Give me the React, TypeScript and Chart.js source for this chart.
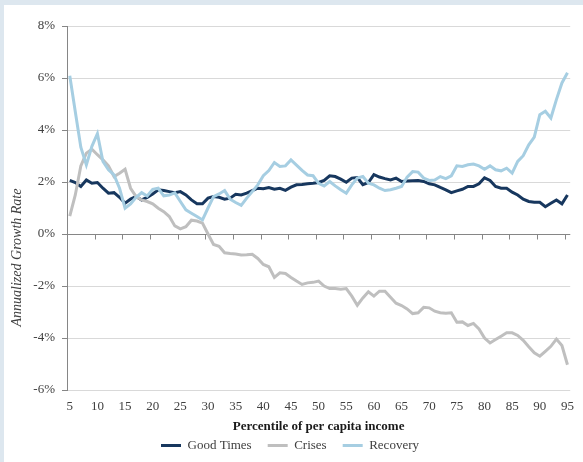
import React, { useEffect, useRef } from 'react';
import { Chart, registerables } from 'chart.js';

Chart.register(...registerables);

const percentiles = [
  5, 6, 7, 8, 9, 10, 11, 12, 13, 14, 15, 16, 17, 18, 19, 20, 21, 22, 23, 24,
  25, 26, 27, 28, 29, 30, 31, 32, 33, 34, 35, 36, 37, 38, 39, 40, 41, 42, 43, 44,
  45, 46, 47, 48, 49, 50, 51, 52, 53, 54, 55, 56, 57, 58, 59, 60, 61, 62, 63, 64,
  65, 66, 67, 68, 69, 70, 71, 72, 73, 74, 75, 76, 77, 78, 79, 80, 81, 82, 83, 84,
  85, 86, 87, 88, 89, 90, 91, 92, 93, 94, 95,
];

const goodTimes = [
  2.06, 1.98, 1.83, 2.08, 1.95, 1.98, 1.76, 1.57, 1.59, 1.41, // 5-14
  1.18, 1.34, 1.44, 1.31, 1.41, 1.54, 1.7, 1.67, 1.63, 1.59, // 15-24
  1.63, 1.5, 1.31, 1.16, 1.16, 1.38, 1.44, 1.41, 1.34, 1.38, // 25-34
  1.53, 1.5, 1.57, 1.67, 1.76, 1.74, 1.79, 1.72, 1.76, 1.68, // 35-44
  1.8, 1.89, 1.9, 1.93, 1.95, 1.98, 2.06, 2.24, 2.21, 2.11, // 45-54
  1.99, 2.15, 2.17, 1.9, 1.98, 2.28, 2.19, 2.13, 2.08, 2.15, // 55-64
  2.02, 2.04, 2.05, 2.06, 2.02, 1.93, 1.89, 1.79, 1.7, 1.59, // 65-74
  1.66, 1.72, 1.83, 1.83, 1.93, 2.16, 2.06, 1.83, 1.76, 1.76, // 75-84
  1.61, 1.5, 1.34, 1.25, 1.22, 1.22, 1.05, 1.18, 1.31, 1.16, // 85-94
  1.5, // 95
];

const crises = [
  0.69, 1.5, 2.62, 3.11, 3.26, 3.05, 2.85, 2.62, 2.21, 2.34, // 5-14
  2.49, 1.76, 1.44, 1.31, 1.25, 1.16, 0.99, 0.86, 0.67, 0.31, // 15-24
  0.2, 0.28, 0.53, 0.5, 0.42, 0.0, -0.4, -0.47, -0.72, -0.75, // 25-34
  -0.77, -0.81, -0.8, -0.78, -0.94, -1.17, -1.26, -1.67, -1.49, -1.52, // 35-44
  -1.67, -1.81, -1.94, -1.88, -1.86, -1.81, -2.0, -2.1, -2.1, -2.12, // 45-54
  -2.1, -2.39, -2.74, -2.46, -2.22, -2.39, -2.2, -2.2, -2.43, -2.66, // 55-64
  -2.75, -2.88, -3.06, -3.03, -2.82, -2.84, -2.97, -3.03, -3.05, -3.03, // 65-74
  -3.39, -3.38, -3.52, -3.44, -3.65, -4.0, -4.19, -4.06, -3.93, -3.8, // 75-84
  -3.8, -3.9, -4.09, -4.34, -4.57, -4.7, -4.51, -4.32, -4.04, -4.29, // 85-94
  -5.03, // 95
];

const recovery = [
  6.09, 4.7, 3.34, 2.66, 3.37, 3.86, 2.79, 2.47, 2.27, 1.76, // 5-14
  0.99, 1.16, 1.41, 1.59, 1.46, 1.72, 1.76, 1.47, 1.5, 1.58, // 15-24
  1.25, 0.93, 0.8, 0.67, 0.54, 1.0, 1.44, 1.54, 1.67, 1.34, // 25-34
  1.21, 1.1, 1.38, 1.63, 1.89, 2.24, 2.44, 2.75, 2.6, 2.62, // 35-44
  2.85, 2.65, 2.45, 2.27, 2.24, 1.95, 1.85, 2.02, 1.85, 1.7, // 45-54
  1.57, 1.89, 2.15, 2.21, 1.95, 1.89, 1.76, 1.67, 1.7, 1.76, // 55-64
  1.83, 2.19, 2.4, 2.38, 2.15, 2.06, 2.08, 2.21, 2.13, 2.24, // 65-74
  2.62, 2.6, 2.66, 2.69, 2.62, 2.49, 2.62, 2.47, 2.43, 2.53, // 75-84
  2.34, 2.79, 3.01, 3.43, 3.73, 4.59, 4.72, 4.46, 5.17, 5.81, // 85-94
  6.2, // 95
];

const seriesNames = ['Good Times', 'Crises', 'Recovery'];
const seriesColors = ['#17375E', '#BFBFBF', '#A6CEE2'];
const yTitle = 'Annualized Growth Rate';
const xTitle = 'Percentile of per capita income';
const yMin = -6;
const yMax = 8;
const yStep = 2;
const xTickEvery = 5;

const FONT = "'Liberation Serif', 'DejaVu Serif', serif";

const axisPlugin = {
  id: 'excelAxis',
  beforeDatasetsDraw(chart: any) {
    const { ctx, chartArea, scales } = chart;
    const x = scales.x;
    const y = scales.y;
    const y0 = Math.round(y.getPixelForValue(0)) + 0.5;
    ctx.save();
    ctx.strokeStyle = '#868686';
    ctx.lineWidth = 1;
    ctx.beginPath();
    ctx.moveTo(chartArea.left, y0);
    ctx.lineTo(chartArea.right, y0);
    const step = x.getPixelForValue(1) - x.getPixelForValue(0);
    for (let i = 0; i < percentiles.length; i += xTickEvery) {
      const px = Math.round(x.getPixelForValue(i) - step / 2) + 0.5;
      ctx.moveTo(px, y0);
      ctx.lineTo(px, y0 + 5);
    }
    ctx.stroke();
    ctx.restore();
  },
  afterDraw(chart: any) {
    const { ctx, chartArea } = chart;
    ctx.save();
    ctx.font = `italic 14px ${FONT}`;
    ctx.fillStyle = '#404040';
    ctx.textAlign = 'center';
    ctx.textBaseline = 'middle';
    const cy = chartArea.top + (chartArea.bottom - chartArea.top) * 0.636;
    ctx.translate(13, cy);
    ctx.rotate(-Math.PI / 2);
    ctx.fillText(yTitle, 0, 0);
    ctx.restore();
  },
};

export default function App() {
  const ref = useRef<HTMLCanvasElement | null>(null);

  useEffect(() => {
    document.body.style.margin = '0';
    const canvas = ref.current;
    if (!canvas) return;
    const chart = new Chart(canvas, {
      type: 'line',
      data: {
        labels: percentiles.map(String),
        datasets: [
          { label: seriesNames[0], data: goodTimes, borderColor: seriesColors[0], backgroundColor: seriesColors[0], order: 3 },
          { label: seriesNames[1], data: crises, borderColor: seriesColors[1], backgroundColor: seriesColors[1], order: 2 },
          { label: seriesNames[2], data: recovery, borderColor: seriesColors[2], backgroundColor: seriesColors[2], order: 1 },
        ].map((d) => ({ ...d, borderWidth: 3, pointRadius: 0, tension: 0, fill: false })),
      },
      options: {
        animation: false,
        responsive: false,
        maintainAspectRatio: false,
        layout: { padding: { top: 21, right: 7, left: 0, bottom: 0 } },
        plugins: {
          tooltip: { enabled: false },
          legend: {
            position: 'bottom',
            labels: {
              font: { family: FONT, size: 13 },
              color: '#404040',
              boxWidth: 20,
              boxHeight: 3,
              padding: 16,
              sort: (a: any, b: any) => a.datasetIndex - b.datasetIndex,
              generateLabels: (c: any) => {
                const items = (Chart as any).defaults.plugins.legend.labels.generateLabels(c);
                return items.map((it: any) => ({ ...it, fillStyle: it.strokeStyle, lineWidth: 0 }));
              },
            },
          },
        },
        scales: {
          x: {
            type: 'category',
            offset: true,
            grid: { display: false, drawTicks: false },
            border: { display: false },
            afterBuildTicks: (scale: any) => {
              scale.ticks = scale.ticks.filter((t: any) => t.value % xTickEvery === 0);
            },
            afterFit: (scale: any) => {
              scale.height = 33;
            },
            ticks: {
              autoSkip: false,
              maxRotation: 0,
              padding: 9,
              color: '#404040',
              font: { family: FONT, size: 13 },
            },
            title: {
              display: true,
              text: xTitle,
              color: '#1a1a1a',
              font: { family: FONT, size: 13, weight: 'bold' },
              padding: { top: 0, bottom: -11 },
            },
          },
          y: {
            min: yMin,
            max: yMax,
            afterFit: (scale: any) => {
              scale.width = 63;
            },
            ticks: {
              stepSize: yStep,
              padding: 7,
              color: '#404040',
              font: { family: FONT, size: 13 },
              callback: (v: any) => `${v}%`,
            },
            grid: { color: '#D9D9D9', tickColor: '#868686', tickLength: 5 },
            border: { color: '#868686' },
          },
        },
      },
      plugins: [axisPlugin],
    });
    return () => chart.destroy();
  }, []);

  return (
    <div style={{ position: 'relative', width: 583, height: 462, background: '#DDE7EF' }}>
      <div style={{ position: 'absolute', left: 4, top: 5, width: 579, height: 457, background: '#FFFFFF' }}>
        <canvas ref={ref} width={579} height={457} style={{ display: 'block' }} />
      </div>
    </div>
  );
}
